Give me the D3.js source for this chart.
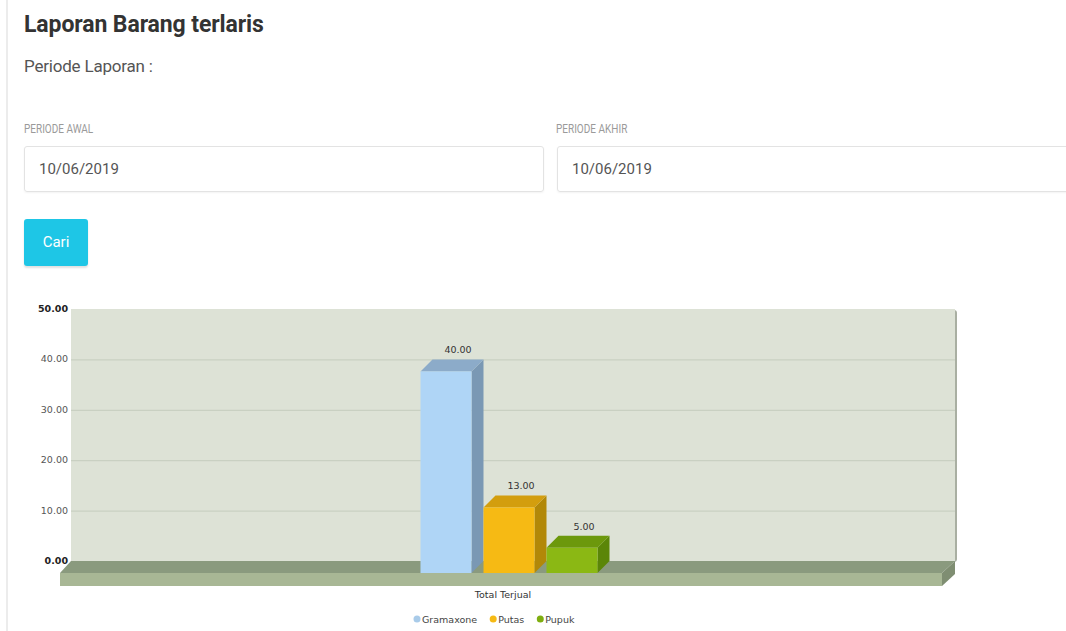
<!DOCTYPE html>
<html>
<head>
<meta charset="utf-8">
<script src="https://cdn.jsdelivr.net/npm/d3@7"></script>
<style>
  body { margin: 0; width: 1066px; height: 631px; background: #fff; position: relative; overflow: hidden; font-family: Roboto, "Noto Sans", sans-serif; }
  .edge { position: absolute; left: 6px; top: 0; width: 2px; height: 631px; background: #ececec; }
  h3 { position: absolute; left: 24px; top: 11px; margin: 0; font-size: 23px; font-weight: 700; color: #333; letter-spacing: -0.1px; }
  .sub { position: absolute; left: 24px; top: 56px; font-size: 17px; color: #555; letter-spacing: -0.2px; }
  .lbl { position: absolute; top: 121px; font-size: 12.5px; color: #9a9a9a; transform: scaleX(0.8); transform-origin: left center; }
  .inp { position: absolute; top: 146px; height: 46px; box-sizing: border-box; border: 1px solid #e3e3e3; border-radius: 3px;
         font-size: 15px; color: #555; padding: 13px 0 0 14px; box-shadow: 0 1px 2px rgba(0,0,0,0.05); }
  .btn { position: absolute; left: 24px; top: 219px; width: 64px; height: 47px; background: #1ec6e6; border-radius: 3px;
         color: #fff; font-size: 15px; text-align: center; line-height: 46px; box-shadow: 0 2px 2px rgba(0,0,0,0.12); }
  svg { position: absolute; left: 0; top: 0; }
</style>
</head>
<body>
<div class="edge"></div>
<h3>Laporan Barang terlaris</h3>
<div class="sub">Periode Laporan :</div>
<div class="lbl" style="left:24px">PERIODE AWAL</div>
<div class="lbl" style="left:556px">PERIODE AKHIR</div>
<div class="inp" style="left:24px;width:520px">10/06/2019</div>
<div class="inp" style="left:557px;width:520px">10/06/2019</div>
<div class="btn">Cari</div>
<svg id="chart" width="1066" height="631"></svg>
<script>
// chart data
const categories = ["Total Terjual"];
const seriesNames = ["Gramaxone", "Putas", "Pupuk"];
const seriesValues = [40, 13, 5];
const yTicks = [0, 10, 20, 30, 40, 50];

// colours per series: front, side, top
const colors = [
  { front: "#afd5f6", side: "#7a98b4", top: "#8cabc9", dot: "#a9cbe9" },
  { front: "#f6ba14", side: "#b28808", top: "#d39e0e", dot: "#f6ba14" },
  { front: "#8bb814", side: "#5b8608", top: "#6c980c", dot: "#7fae10" }
];

const svg = d3.select("#chart");
const depthX = 12, depthY = 12;

// back wall scale
const yBack = d3.scaleLinear().domain([0, 50]).range([561, 309]);
const yFront = v => yBack(v) + depthY;

const wallLeft = 71, wallRight = 955;
const floorLeft = 60, floorRight = 942;

// wall
svg.append("rect")
  .attr("x", wallRight - 4).attr("y", yBack(50) + 1)
  .attr("width", 6).attr("height", yBack(0) - yBack(50))
  .attr("rx", 3)
  .attr("fill", "#a9afa2");
svg.append("rect")
  .attr("x", wallLeft).attr("y", yBack(50))
  .attr("width", wallRight - wallLeft).attr("height", yBack(0) - yBack(50))
  .attr("fill", "#dde2d6");

// grid
svg.selectAll(".grid").data(yTicks.filter(d => d > 0 && d < 50)).enter()
  .append("line")
  .attr("class", "grid")
  .attr("x1", wallLeft).attr("x2", wallRight)
  .attr("y1", d => yBack(d) + 0.5).attr("y2", d => yBack(d) + 0.5)
  .attr("stroke", "#c9d0c2").attr("stroke-width", 1.2);

// floor
const f0 = yFront(0), fThick = 13;
svg.append("polygon")
  .attr("points", [[floorLeft, f0], [floorRight, f0], [wallRight, yBack(0)], [wallLeft, yBack(0)]].join(" "))
  .attr("fill", "#8a9a7e");
svg.append("polygon")
  .attr("points", [[floorRight, f0], [wallRight, yBack(0)], [wallRight, yBack(0) + fThick], [floorRight, f0 + fThick]].join(" "))
  .attr("fill", "#7f8e72");
svg.append("rect")
  .attr("x", floorLeft).attr("y", f0)
  .attr("width", floorRight - floorLeft).attr("height", fThick)
  .attr("fill", "#a8b795");

// y axis labels
svg.selectAll(".ylab").data(yTicks).enter()
  .append("text")
  .attr("class", "ylab")
  .attr("x", 68)
  .attr("y", d => yBack(d) + 3)
  .attr("text-anchor", "end")
  .style("font-family", "'DejaVu Sans', Verdana, sans-serif")
  .style("font-size", "9.5px")
  .style("font-weight", d => (d === 0 || d === 50) ? "bold" : "normal")
  .attr("fill", d => (d === 0 || d === 50) ? "#222" : "#555")
  .text(d => d3.format(".2f")(d));

// bars
const x0 = d3.scaleBand().domain(categories).range([72, 958]);
const groupW = 189;
const xc = x0(categories[0]) + x0.bandwidth() / 2;
const x1 = d3.scaleBand().domain(seriesNames).range([xc - groupW / 2, xc + groupW / 2]);
const barW = x1.bandwidth() - depthX;

const bars = svg.selectAll(".bar").data(seriesNames.map((s, i) => ({ name: s, value: seriesValues[i], c: colors[i] })))
  .enter().append("g").attr("class", "bar");

bars.append("polygon") // side
  .attr("points", d => {
    const x = x1(d.name) + barW, yt = yFront(d.value);
    return [[x, yt], [x + depthX, yt - depthY], [x + depthX, f0 - depthY], [x, f0]].join(" ");
  })
  .attr("fill", d => d.c.side);
bars.append("polygon") // top
  .attr("points", d => {
    const x = x1(d.name), yt = yFront(d.value);
    return [[x, yt], [x + depthX, yt - depthY], [x + barW + depthX, yt - depthY], [x + barW, yt]].join(" ");
  })
  .attr("fill", d => d.c.top);
bars.append("rect") // front
  .attr("x", d => x1(d.name))
  .attr("y", d => yFront(d.value))
  .attr("width", barW)
  .attr("height", d => f0 - yFront(d.value))
  .attr("fill", d => d.c.front);
bars.append("text")
  .attr("x", d => x1(d.name) + barW / 2 + depthX)
  .attr("y", d => yBack(d.value) - 6)
  .attr("text-anchor", "middle")
  .style("font-family", "'DejaVu Sans', Verdana, sans-serif")
  .style("font-size", "9.5px")
  .attr("fill", "#333")
  .text(d => d3.format(".2f")(d.value));

// category label
svg.append("text")
  .attr("x", xc - depthX)
  .attr("y", 598)
  .attr("text-anchor", "middle")
  .style("font-family", "'DejaVu Sans', Verdana, sans-serif")
  .style("font-size", "9.5px")
  .attr("fill", "#333")
  .text(categories[0]);

// legend
const legend = svg.append("g");
let lx = 0;
seriesNames.forEach((s, i) => {
  const g = legend.append("g").attr("transform", "translate(" + lx + ",0)");
  g.append("circle").attr("cx", 0).attr("cy", -4).attr("r", 3.5).attr("fill", colors[i].dot);
  const t = g.append("text")
    .attr("x", 5).attr("y", 0)
    .style("font-family", "'DejaVu Sans', Verdana, sans-serif")
    .style("font-size", "9.5px")
    .attr("fill", "#444")
    .text(s);
  lx += 5 + t.node().getComputedTextLength() + 16;
});
legend.attr("transform", "translate(" + 417 + ",623)");
</script>
</body>
</html>
